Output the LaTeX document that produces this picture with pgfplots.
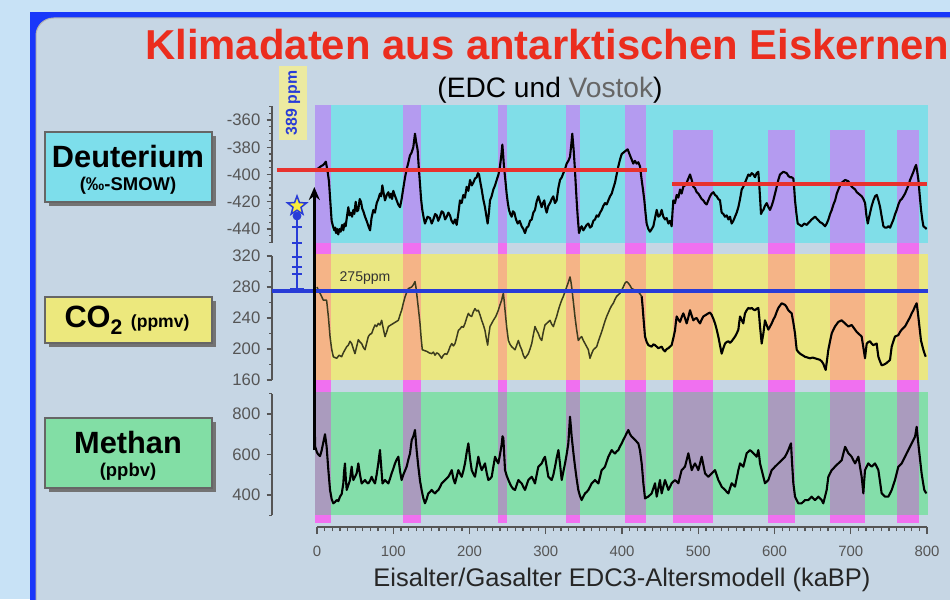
\documentclass[border=0pt]{standalone}
\usepackage{pgfplots}
\pgfplotsset{compat=1.18}
\usepackage{pgfplotstable}
\usepackage{fontspec}
\setmainfont{Liberation Sans}
\usetikzlibrary{arrows.meta}

\definecolor{outerblue}{RGB}{200,226,246}
\definecolor{frameblue}{RGB}{25,55,250}
\definecolor{panel}{RGB}{198,214,228}
\definecolor{cyanband}{RGB}{128,222,232}
\definecolor{purplecol}{RGB}{180,155,240}
\definecolor{pinkstrip}{RGB}{240,112,240}
\definecolor{yellowband}{RGB}{234,231,130}
\definecolor{orangecol}{RGB}{245,180,135}
\definecolor{greenband}{RGB}{132,222,170}
\definecolor{greycol}{RGB}{170,155,190}
\definecolor{titlered}{RGB}{235,45,30}
\definecolor{linered}{RGB}{232,50,45}
\definecolor{lineblue}{RGB}{40,60,215}
\definecolor{ticktext}{RGB}{85,85,85}
\definecolor{boxcyan}{RGB}{125,222,235}
\definecolor{boxyellow}{RGB}{236,232,125}
\definecolor{boxgreen}{RGB}{130,222,165}
\definecolor{starfill}{RGB}{250,235,60}
\definecolor{labelyellow}{RGB}{236,234,160}
\definecolor{vostok}{RGB}{60,60,30}

\pgfdeclareplotmark{fstar}{%
  \pgfpathmoveto{\pgfpointpolar{90}{\pgfplotmarksize}}%
  \pgfpathlineto{\pgfpointpolar{126}{0.42\pgfplotmarksize}}%
  \pgfpathlineto{\pgfpointpolar{162}{\pgfplotmarksize}}%
  \pgfpathlineto{\pgfpointpolar{198}{0.42\pgfplotmarksize}}%
  \pgfpathlineto{\pgfpointpolar{234}{\pgfplotmarksize}}%
  \pgfpathlineto{\pgfpointpolar{270}{0.42\pgfplotmarksize}}%
  \pgfpathlineto{\pgfpointpolar{306}{\pgfplotmarksize}}%
  \pgfpathlineto{\pgfpointpolar{342}{0.42\pgfplotmarksize}}%
  \pgfpathlineto{\pgfpointpolar{18}{\pgfplotmarksize}}%
  \pgfpathlineto{\pgfpointpolar{54}{0.42\pgfplotmarksize}}%
  \pgfpathclose
  \pgfusepathqfillstroke
}

% deuterium (permil), age in ka
\pgfplotstableread{
ka v
0 -396
1.7 -395.5
5 -394
8.3 -393
11.6 -390.6
14 -398
15.7 -405
17.5 -420
19.2 -434
21 -438
22.7 -441
24 -439
25 -443
26.5 -440
27.9 -444
29.5 -440
31 -442
33 -437
34.5 -441
36 -436
37.6 -438
39.5 -430
41.1 -424
42.5 -430
44.1 -428
46 -431
47.6 -426
49 -429
50.7 -420
52.5 -427
54.2 -426
56 -418
57.7 -420
59.3 -425
60.8 -427
63 -431
65.1 -434
67.5 -438
69.6 -441
71.5 -432
73.9 -426
76 -428
78.3 -421
80.5 -418
82.6 -414
84 -416
85.7 -408
87.5 -414
89.2 -419
91.5 -415
93.6 -413
95.5 -417
97.1 -414
98.5 -418
100.1 -412
102.5 -416
104.5 -419
106.5 -422
108.9 -424
111 -418
113.2 -410
115.5 -402
117.6 -396
119.5 -392
121.9 -386
124 -384
126.3 -380
128.5 -370
130 -376
132 -382
133.5 -395
135.1 -407
136.5 -418
138.1 -426
140 -432
141.6 -436
145 -431
148.2 -432
150.5 -436
152.6 -433
155 -429
157 -430
159 -434
161.3 -431
163.5 -427
165.7 -428
168 -433
170.1 -431
172.3 -428
174.4 -430
176.5 -434
178.8 -436
181 -433
183.2 -437
185.5 -428
187.5 -419
189.7 -421
191.9 -415
194 -417
196.3 -409
198.5 -412
200.7 -404
203 -408
205 -406
207.2 -403
209.4 -402
211 -399
212.5 -400
214 -405
216 -411
218 -418
220.3 -424
222 -430
223.8 -436
225.5 -428
226.9 -419
229 -416
231.3 -411
233.5 -408
235.7 -404
238 -400
240 -394
241.7 -386
243.1 -378
244.2 -386
245.2 -394
247 -404
248.7 -414
250.3 -421
251.8 -426
253.5 -429
255.3 -431
257 -427
258.8 -428
261 -433
263.2 -436
265.8 -434
268.4 -438
270.6 -440
272.8 -443
275 -439
277.2 -438
279.4 -434
281.6 -433
283.7 -428
285.9 -426
288 -420
290.3 -416
292.5 -420
294.6 -424
296.3 -421
298.1 -419
299.7 -425
301.2 -428
303.4 -423
305.6 -421
307.8 -418
309.9 -416
312 -421
314.3 -419
316.5 -410
318.7 -404
321 -402
323.1 -399
325.3 -396
327.4 -392
329.6 -390
331.8 -387
333.5 -378
334.8 -370
335.7 -376
336.6 -382
338 -394
339.2 -406
340.5 -419
341.9 -431
343.6 -443
345.3 -440
347.1 -438
349.3 -441
351.5 -439
353.7 -437
355.9 -436
358 -439
360.2 -438
362.4 -434
364.6 -433
366.8 -430
369 -431
371.2 -428
373.4 -426
375.5 -423
377.7 -421
379.9 -422
382.1 -419
384.3 -416
386.5 -414
388.6 -410
390.8 -406
393 -400
395.2 -394
397.4 -389
399.6 -385
403.9 -383
407.4 -381.5
410.5 -386
412.7 -389
414.8 -392
417 -390
419.2 -392
421.4 -391
423.6 -394
425.8 -404
427.5 -411
429.3 -419
430.8 -428
432.3 -436
434.5 -440
436.7 -442
439 -440
441.1 -438
443.3 -432
445.5 -426
447.7 -431
449.8 -430
452 -426
454.2 -431
456.4 -433
458.6 -432
460.8 -436
463 -434
465.1 -438
466.2 -428
467.3 -419
469.5 -421
471.7 -415
473.9 -417
476.1 -411
478.2 -414
480.4 -409
482.6 -408
484.8 -406
487 -403
489.2 -400
491.4 -404
493.6 -409
495.7 -410
497.9 -413
500.1 -414
502.3 -416
504.5 -418
506.7 -419
508.9 -421
511 -422
513.2 -419
515.4 -416
517.6 -414
519.8 -413
522 -415
524.2 -416
526.3 -418
528.5 -419
530.7 -428
532.9 -429
535.1 -431
537.3 -430
539.5 -433
541.6 -431
543.8 -436
546 -434
548.2 -431
550.4 -428
552.6 -424
554.8 -418
557 -411
559.1 -409
561.3 -406
563.5 -403
565.7 -400
567.9 -401
570.1 -399
572.3 -400
574.4 -402
576.6 -399
578.8 -398
580.5 -412
582.3 -429
583.8 -427
585.4 -426
587.5 -423
589.8 -421
592 -424
594.1 -426
596.3 -423
598.5 -419
600.7 -414
602.9 -409
605 -404
607.2 -400
609.4 -399
611.6 -398
613.8 -398.5
616 -399
618.1 -401
620.3 -402
622.5 -402
624.7 -403
625.8 -410
626.9 -419
628.6 -428
630.4 -436
633 -437
635.7 -438
639 -436
642.2 -437
645.5 -435
648.8 -433
651 -432
653.2 -431
656.5 -433
659.8 -435
663 -436
666.3 -438
668.5 -436
670.7 -433
672.9 -429
675.1 -426
677.3 -422
679.5 -419
681.7 -414
683.8 -411
686 -408
688.2 -406
690.4 -405
692.6 -404
694.8 -404.5
696.9 -405
699.1 -407
701.3 -409
703.5 -410
705.7 -411
707.9 -413
710.1 -414
712.2 -415
714.4 -416
716.6 -418
718.8 -421
720.5 -430
722.3 -436
723.8 -432
725.4 -428
727.5 -423
729.7 -419
731.9 -416
734.1 -415
736.3 -419
738.5 -424
740.6 -431
742.8 -438
745 -439
747.2 -439
749.4 -438
751.6 -439
753.8 -436
756 -433
758.2 -429
760.3 -426
762.5 -422
764.7 -419
766.9 -418
769.1 -416
771.2 -414
773.4 -411
775.6 -408
777.8 -404
780 -401
782.2 -398
784 -395
785.7 -393
787.2 -398
788.7 -404
790.4 -415
792.2 -426
793.8 -433
795.3 -438
797.5 -439
799.6 -440
}\ddtab

% CO2 (ppmv)
\pgfplotstableread{
ka c
0 280
1.7 276
5 270
8.3 263
12.6 263
14.9 242
17.1 216
19.2 200
21.4 190
23.5 189
25.8 188
29 192
32.3 190
34.5 195
36.7 199
39 203
41.1 205
43.3 210
45.5 207
47.7 200
49.8 194
52 203
54.2 212
56.4 209
58.6 207
60.8 202
63 199
65.2 208
67.3 216
69.5 219
71.7 220
73.9 226
76.1 231
78.2 229
80.4 233
82.6 231
84.8 237
87 226
89.2 216
91.4 222
93.6 229
96.8 231
100.1 233
103.4 235
106.7 237
108.9 244
111 250
113.2 259
115.4 267
117.6 273
119.8 278
122 279
124.2 280
126.4 283
128.5 287
129.6 281
130.7 272
133 252
135.1 233
136.6 214
138.1 199
141 198
143.9 197
147.2 195
150.4 194
152.6 196
154.8 192
157 195
159.2 194
161.4 191
163.5 188
165.7 192
167.9 194
170.1 193
172.3 197
174.5 203
176.7 207
178.9 204
181 207
183.2 215
185.4 224
187.6 226
189.8 229
192 228
194.1 233
196.3 240
198.5 246
200.7 243
202.9 242
205 248
207.2 252
209.4 249
211.6 250
213.8 244
216 237
218.2 231
220.3 224
222 214
223.8 205
225.3 218
226.9 229
229.1 233
231.3 237
234.5 242
237.8 250
240 257
242.2 263
243.3 268
244.4 272
245.5 262
246.6 250
248.8 228
251 211
253.2 206
255.3 203
257.5 201
259.7 199
261.9 205
264.1 211
266.3 204
268.5 199
270.6 192
272.8 188
275 191
277.2 194
279.4 200
281.6 207
283.7 218
285.9 229
288.1 224
290.3 220
292.5 214
294.7 211
296.8 222
299 231
302.3 234
305.6 237
307.8 232
310 229
312.2 236
314.3 242
316.5 250
318.7 257
320.9 263
323.1 268
325.3 274
327.4 280
329.6 286
331.8 293
333 287
334 280
336.2 261
338.4 241
340.5 225
342.7 211
344.9 214
347.1 216
349.3 211
351.5 207
353.7 203
355.9 199
357 193
358 188
360.2 194
362.4 199
364.6 201
366.8 203
369 210
371.1 216
373.3 222
375.5 229
377.7 236
379.9 242
382.1 247
384.3 252
386.4 256
388.6 259
390.8 264
393 268
395.2 270
397.4 272
399.6 276
401.7 280
403.9 285
406 287
408.3 285
410.5 282
412.7 278
414.9 277
417.1 276
419.2 275
421.4 274
423.6 271
425.8 268
427 255
428 242
429.1 229
430.2 216
432.4 209
434.5 205
436.7 204
438.9 203
441.1 206
443.3 205
445.5 203
447.7 201
449.8 202
452 203
454.2 199
456.4 197
458.6 200
460.8 201
463 203
465.1 205
467.3 214
469.5 224
470.6 234
471.7 242
473.9 238
476.1 235
478.2 241
480.4 246
482.6 240
484.8 233
487 241
489.2 250
491.4 243
493.6 237
495.7 239
497.9 240
500.1 236
502.3 233
504.5 238
506.7 242
510 244
513.2 246
515.4 247
517.6 244
519.8 239
522 233
524.2 225
526.3 216
528.5 205
530.7 194
532.9 201
535.1 207
537.3 209
539.5 210
541.6 208
543.8 210
546 213
548.2 216
550.4 220
552.6 225
553.7 234
554.8 242
557 237
559.1 233
560.2 240
561.3 246
563.5 250
565.7 253
567.9 252
570.1 253
572.3 251
574.4 250
576.6 252
578.8 253
580 241
581 229
582.1 218
583.2 207
584.3 214
585.4 220
586.5 229
587.5 237
589.7 231
591.9 225
594.1 229
596.3 233
598.5 238
600.7 242
602.9 248
605 253
607.2 256
609.4 259
611.6 258
613.8 257
616 254
618.1 250
620.3 248
622.5 246
624.7 234
626.9 220
628 209
629.1 199
631.3 196
633.4 194
636.7 192
640 190
643.3 189
646.6 188
649.9 189
653.1 188
656.4 187
659.7 186
661.9 184
664 181
665.5 177
667.1 173
668.9 186
670.6 199
672.8 210
675 220
677.2 225
679.3 229
681.5 232
683.7 235
685.9 236
688.1 237
690.3 235
692.5 233
694.7 231
696.8 229
699 230
701.2 231
703.4 228
705.6 225
707.8 222
710 220
712.2 218
714.3 216
716.5 202
718.7 188
719.8 198
720.9 207
723 209
725.2 210
727.4 207
729.6 205
731.8 206
734 207
735.1 198
736.2 190
738.4 184
740.5 179
743.8 180
747.1 182
749.3 184
751.5 186
752.6 195
753.7 203
755.9 210
758 216
760.2 217
762.4 218
764.6 222
766.8 225
768.9 227
771.1 229
773.3 233
775.5 237
777.7 241
779.9 246
782.1 250
784.3 255
785.4 257
786.4 259
787.5 251
788.6 242
790.4 226
792.1 211
793.6 205
795.2 199
796.8 194
798.3 190
}\cotab

% methane (ppbv)
\pgfplotstableread{
ka m
-3.5 900
-2.5 640
0 610
1.7 600
4 592
6.1 620
8.3 660
10.5 700
12.6 640
14.9 523
17.1 425
19.2 380
21.4 359
23.6 365
25.8 375
28 370
30.2 392
32.4 405
34.5 457
35.6 520
36.7 556
37.8 480
39 425
41.2 450
43.3 474
44.4 510
45.5 540
46.6 500
47.7 474
49.9 490
52 507
53.1 530
54.2 556
56.4 500
58.6 457
60.8 465
63 474
65.2 462
67.3 457
69.5 470
71.7 490
73.9 470
76.1 457
78.2 500
80.4 556
81.5 590
82.6 622
84.2 540
85.9 457
87.5 465
89.2 474
91.4 465
93.6 457
95.7 480
97.9 507
100.1 530
102.3 556
104.5 575
106.7 589
108.8 520
111 474
113.2 500
115.4 520
117.6 540
119.8 575
122 605
124.2 671
126.4 690
128.5 721
130.7 620
132.9 540
135.1 470
137.2 425
139.4 385
141.6 359
143.8 380
146 408
148.2 415
150.4 425
152.6 415
154.8 408
157 418
159.2 425
161.4 440
163.5 457
165.7 465
167.9 474
170.1 482
172.3 490
174.5 505
176.7 523
178.9 480
181 457
183.2 490
185.4 523
187.6 505
189.8 490
192 520
194.1 556
196.3 610
198.5 655
200.7 580
202.9 523
205 505
207.2 490
209.4 540
211.6 589
213.8 550
216 523
218.2 540
220.3 556
222.5 510
224.7 474
226.9 480
229.1 490
231.3 540
233.5 589
235.7 570
237.8 556
240 600
242.2 650
243.3 690
244.4 680
245.5 600
246.6 523
248.8 495
251 474
253.2 455
255.3 440
257.5 430
259.7 425
261.9 450
264.1 474
266.3 465
268.5 457
270.6 440
272.8 425
275 450
277.2 474
279.4 482
281.6 490
283.7 475
285.9 457
288.1 500
290.3 540
292.5 548
294.7 556
296.8 575
299 589
301.2 540
303.4 490
305.6 482
307.8 474
310 500
312.2 540
314.4 585
316.6 622
318.8 550
320.9 474
323.1 515
325.3 556
327.4 600
329.6 655
330.7 720
331.8 787
332.9 740
334 688
336.2 610
338.4 540
340.5 480
342.7 425
344.9 395
347.1 375
349.3 392
351.5 408
353.7 415
355.9 425
358 440
360.2 457
362.4 465
364.6 474
366.8 465
369 457
371.2 490
373.3 523
375.5 530
377.7 540
379.9 565
382.1 589
384.3 605
386.5 622
388.6 612
390.8 605
393 615
395.2 622
397.4 640
399.6 655
401.7 672
403.9 688
406.1 705
408.3 721
410.5 700
412.7 688
414.9 680
417.1 672
419.3 663
421.4 655
423.6 620
425.8 556
427 505
428 458
429.1 420
430.2 383
432.4 388
434.5 392
436.7 400
438.9 408
441.1 433
443.3 458
444.4 425
445.5 392
447.7 433
449.8 474
450.9 440
452 408
454.2 441
456.4 474
458.6 450
460.8 425
463 441
465.1 458
467.3 466
469.5 474
471.7 466
473.9 458
476 490
478.2 523
480.4 531
482.6 540
484.8 573
487 606
489.2 565
491.4 523
493.5 540
495.7 556
497.9 540
500.1 523
502.3 556
504.5 589
506.7 548
508.9 507
511 498
513.2 490
515.4 498
517.6 507
519.8 515
522 523
524.2 498
526.3 474
528.5 458
530.7 441
532.9 433
535.1 425
537.3 416
539.5 408
541.6 433
543.8 458
546 450
548.2 441
550.4 482
552.6 523
554.8 556
557 548
559.1 540
561.3 573
563.5 606
565.7 614
567.9 622
570.1 614
572.3 606
574.4 598
576.6 589
578.8 622
580 590
581 556
583.2 523
585.4 490
587.5 458
589.7 466
591.9 474
594.1 498
596.3 523
598.5 531
600.7 540
602.9 548
605 556
607.2 564
609.4 572
611.6 580
613.8 589
616 605
618.1 622
620 640
621.6 655
623 560
624.7 458
626.9 392
629 375
631.2 359
633.4 359
635.6 359
637.8 367
640 375
642.2 375
644.4 375
646.6 383
648.7 392
650.9 383
653.1 375
655.3 383
657.5 392
659.7 383
661.9 375
664 359
666.2 392
668.4 425
670.6 490
672.8 507
675 523
677.2 531
679.3 540
681.5 548
683.7 556
685.9 564
688.1 572
690.3 605
692.6 638
694.7 622
696.9 606
699 598
701.2 589
703.4 572
705.6 556
707.8 572
710 589
712.1 540
714.3 490
715.4 450
716.5 408
717.6 470
718.7 523
720.9 540
723 556
725.2 548
727.4 540
729.6 548
731.8 556
734 540
736.2 523
738.4 465
740.5 408
742.7 400
744.9 392
747.1 392
749.3 392
751.5 408
753.7 425
755.9 450
758 474
760.2 507
762.4 540
764.6 548
766.8 556
769 573
771.2 589
773.3 606
775.5 622
777.7 638
779.9 655
782.1 672
784.3 688
785.4 712
786.4 737
787.9 680
789.5 622
791.2 565
792.9 507
794.6 466
796.4 425
797.9 415
799.4 408
}\chtab

\pgfplotsset{
  panel/.style={scale only axis, width=131mm, xmin=-59, xmax=800,
    anchor=south west, axis x line=none, axis y line*=left,
    tick align=outside, major tick length=1.1mm, minor tick length=0.6mm,
    every tick/.style={ticktext, line width=0.25mm},
    y axis line style={ticktext, line width=0.25mm},
    yticklabel style={font=\fontsize{9.5}{10}\selectfont, text=ticktext}},
  pix/.style={scale only axis, width=131mm, height=84.4mm,
    at={(54.4mm,-105.4mm)}, anchor=south west,
    xmin=-59, xmax=800, ymin=105, ymax=527, y dir=reverse,
    hide axis, clip=false},
  curve/.style={black, line width=0.42mm, line join=round},
}

\begin{document}
\begin{tikzpicture}
\useasboundingbox (0,0) rectangle (190mm,-119.8mm);

% frame, title and label boxes (1 unit = 1 pixel of the reference)
\begin{scope}[x=0.2mm, y=-0.2mm]
  \fill[outerblue] (0,0) rectangle (950,599);
  \fill[frameblue] (30,12) rectangle (960,610);
  \fill[panel, draw=black!30, line width=0.2mm, rounded corners=10] (36,18) rectangle (970,620);
  \node[anchor=west, inner sep=0, text=titlered] at (145,45)
    {\fontsize{23.8}{28}\selectfont\bfseries Klimadaten aus antarktischen Eiskernen};
  \node[text=black] at (550,90)
    {\fontsize{16}{19}\selectfont (EDC und {\color{black!60}Vostok})};
  \node[text=black!85] at (622,580)
    {\fontsize{14.5}{17}\selectfont Eisalter/Gasalter EDC3-Altersmodell (kaBP)};
  % Deuterium box
  \fill[black!55] (49,136) rectangle (216,206);
  \draw[fill=boxcyan, draw=black!60, line width=0.3mm] (45,132) rectangle (212,202);
  \node at (128,157) {\fontsize{17.5}{20}\selectfont\bfseries Deuterium};
  \node at (128,186) {\fontsize{10.5}{12}\selectfont\bfseries (‰-SMOW)};
  % CO2 box
  \fill[black!55] (49,301) rectangle (216,347);
  \draw[fill=boxyellow, draw=black!60, line width=0.3mm] (45,297) rectangle (212,343);
  \node at (127,320) {\fontsize{17.5}{20}\selectfont\bfseries CO\raisebox{-0.45ex}{\fontsize{12}{12}\selectfont 2}\ {\fontsize{10}{12}\selectfont (ppmv)}};
  % Methan box
  \fill[black!55] (49,422) rectangle (216,492);
  \draw[fill=boxgreen, draw=black!60, line width=0.3mm] (45,418) rectangle (212,488);
  \node at (128,443) {\fontsize{17.5}{20}\selectfont\bfseries Methan};
  \node at (128,472) {\fontsize{10.5}{12}\selectfont\bfseries (ppbv)};
  % 389 ppm label
  \fill[labelyellow] (279,66) rectangle (307,140);
  \node[rotate=90, text=lineblue] at (293,103) {\fontsize{9}{10}\selectfont\bfseries 389 ppm};
\end{scope}

% background bands: glacial (plain) and interglacial (columns)
\begin{axis}[pix]
  \fill[cyanband] (axis cs:-2.6,105) rectangle (axis cs:801,243);
  \fill[yellowband] (axis cs:-2.6,254) rectangle (axis cs:801,380);
  \fill[greenband] (axis cs:-2.6,392) rectangle (axis cs:801,515);
  \foreach \a/\b/\t in {-2.6/18.4/105, 112.8/136/105, 237.6/249/105,
      326.6/345/105, 404/431.5/105, 467.3/519.8/130, 591.5/627/130,
      673/719/130, 760/790/130}{
    \edef\temp{
      \noexpand\fill[purplecol] (axis cs:\a,\t) rectangle (axis cs:\b,243);
      \noexpand\fill[pinkstrip] (axis cs:\a,243) rectangle (axis cs:\b,254);
      \noexpand\fill[orangecol] (axis cs:\a,254) rectangle (axis cs:\b,380);
      \noexpand\fill[pinkstrip] (axis cs:\a,380) rectangle (axis cs:\b,392);
      \noexpand\fill[greycol] (axis cs:\a,392) rectangle (axis cs:\b,515);
      \noexpand\fill[pinkstrip] (axis cs:\a,515) rectangle (axis cs:\b,523);
    }\temp
  }
  \addplot[draw=none] coordinates {(0,300)};
\end{axis}

% Deuterium
\begin{axis}[panel, at={(54.4mm,-48.52mm)}, height=27.24mm,
    ymin=-450, ymax=-350,
    ytick={-440,-420,-400,-380,-360},
    yticklabels={-440,-420,-400,-380,-360},
    minor ytick={-450,-445,...,-350}]
  \addplot[curve] table[x=ka, y=v] {\ddtab};
  \addplot[linered, line width=0.65mm] coordinates {(-52.5,-396.7) (432.8,-396.7)};
  \addplot[linered, line width=0.65mm] coordinates {(465.6,-407) (800,-407)};
\end{axis}

% CO2 (Vostok part thinner, EDC part black)
\begin{axis}[panel, at={(54.4mm,-76mm)}, height=24.8mm,
    ymin=160, ymax=320,
    ytick={160,200,240,280,320},
    yticklabels={160,200,240,280,320},
    minor ytick={180,220,260,300}, clip=false]
  \addplot[vostok, line width=0.3mm, line join=round, restrict x to domain=0:426]
    table[x=ka, y=c] {\cotab};
  \addplot[curve, restrict x to domain=425:800] table[x=ka, y=c] {\cotab};
  \addplot[lineblue, line width=0.65mm] coordinates {(-59,274.8) (801,274.8)};
\end{axis}

% Methane
\begin{axis}[panel, at={(54.4mm,-103.05mm)}, height=24.3mm,
    ymin=300, ymax=900,
    ytick={400,600,800},
    yticklabels={400,600,800},
    minor ytick={300,500,700,900}]
  \addplot[curve] table[x=ka, y=m] {\chtab};
\end{axis}

% age axis
\begin{axis}[scale only axis, width=122mm, height=4mm,
    at={(63.4mm,-105.4mm)}, anchor=south west,
    xmin=0, xmax=800, ymin=0, ymax=1,
    axis y line=none, axis x line*=bottom,
    tick align=outside, major tick length=1.4mm, minor tick length=0.8mm,
    every tick/.style={ticktext, line width=0.25mm},
    x axis line style={ticktext, line width=0.25mm},
    xtick={0,100,...,800},
    xticklabels={0,100,200,300,400,500,600,700,800},
    minor x tick num=9,
    xticklabel style={font=\fontsize{8.5}{9}\selectfont, text=ticktext, yshift=-1.1mm}]
  \addplot[draw=none] coordinates {(0,0)};
\end{axis}

% present-day rise and reference markers
\begin{axis}[pix]
  \addplot[black, line width=0.6mm, -{Stealth[length=2.6mm, width=2.2mm]}]
    coordinates {(-3.5,450) (-3.5,187)};
  \addplot[lineblue, line width=0.45mm] coordinates {(-26.2,214) (-26.2,291)};
  \addplot[lineblue, line width=0.4mm] coordinates {(-32.5,227) (-19.9,227)};
  \addplot[lineblue, line width=0.4mm] coordinates {(-32.5,243) (-19.9,243)};
  \addplot[lineblue, line width=0.4mm] coordinates {(-32.5,257) (-19.9,257)};
  \addplot[lineblue, line width=0.4mm] coordinates {(-32.5,267) (-19.9,267)};
  \addplot[lineblue, line width=0.4mm] coordinates {(-32.5,274) (-19.9,274)};
  \addplot[lineblue, line width=0.5mm] coordinates {(-35,289) (-17,289)};
  \addplot[only marks, mark=*, mark size=0.8mm, lineblue] coordinates {(-26.2,216)};
  \addplot[only marks, mark=fstar, mark size=2mm,
    mark options={fill=starfill, draw=lineblue, line width=0.3mm}]
    coordinates {(-26.2,206)};
  \node[text=black!80] at (axis cs:63,278) {\fontsize{8}{9}\selectfont 275ppm};
\end{axis}
\end{tikzpicture}
\end{document}
